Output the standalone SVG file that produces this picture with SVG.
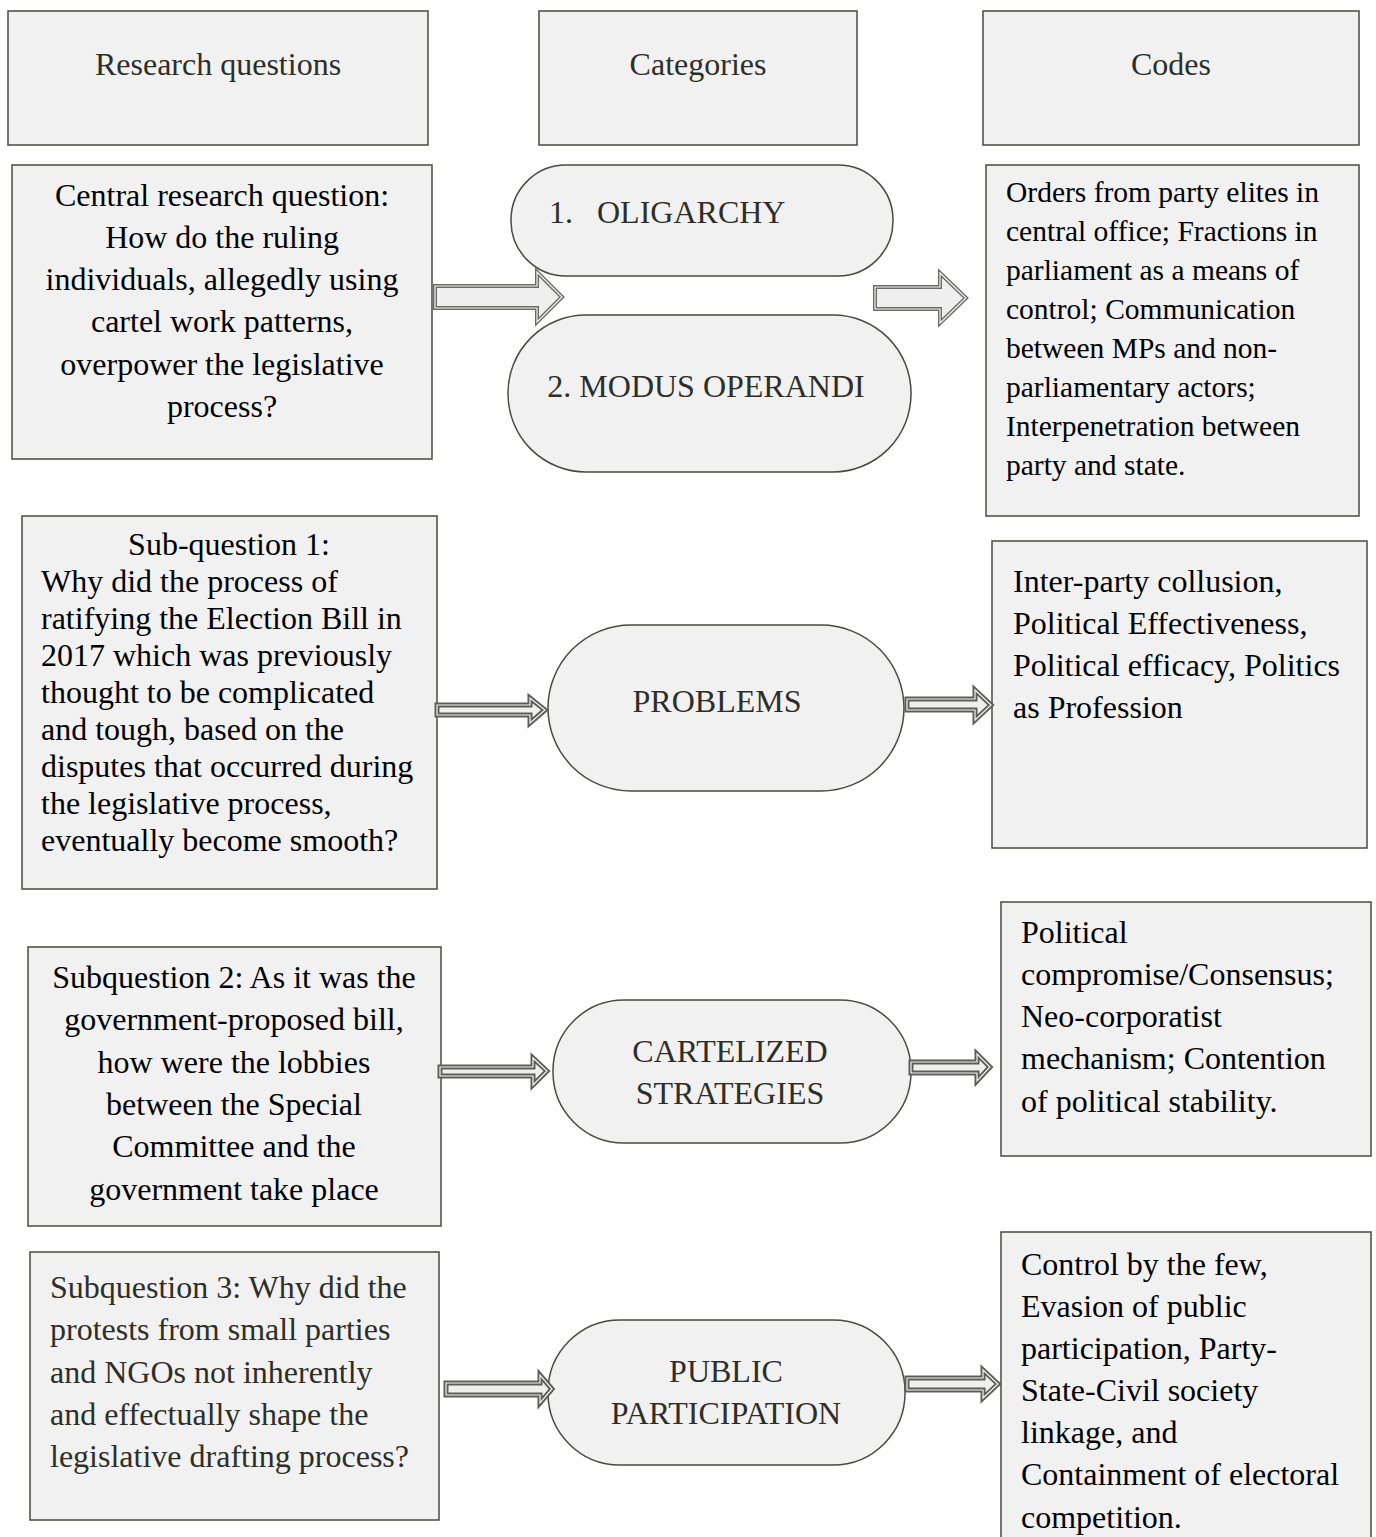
<svg xmlns="http://www.w3.org/2000/svg" width="1376" height="1537" viewBox="0 0 1376 1537">
<style>
.box{fill:#f1f1f1;stroke:#4a4a42;stroke-width:1.5}
.t{font-family:"Liberation Serif","Times New Roman",serif;font-size:32px;fill:#000}
.g{fill:#2e2e28}
.c{text-anchor:middle}
.s26{font-size:29.5px}
.ao{fill:#efefef;stroke:#6a6a66;stroke-width:4;stroke-linejoin:miter}
.so{fill:#efefef;stroke:#5c5c5a;stroke-width:5;stroke-linejoin:miter}
.ai{fill:none;stroke:#f4f4f4;stroke-width:1.2;stroke-linejoin:miter}
</style>
<rect width="1376" height="1537" fill="#fff"/>
<g id="hdr-rq"><rect class="box" x="8" y="11" width="420" height="134"/><text class="t g c" x="218" y="75">Research questions</text></g>
<g id="hdr-cat"><rect class="box" x="539" y="11" width="318" height="134"/><text class="t g c" x="698" y="75">Categories</text></g>
<g id="hdr-codes"><rect class="box" x="983" y="11" width="376" height="134"/><text class="t g c" x="1171" y="75">Codes</text></g>

<g id="central"><rect class="box" x="12" y="165" width="420" height="294"/>
<text class="t c" x="222"><tspan x="222" y="206">Central research question:</tspan><tspan x="222" y="248">How do the ruling</tspan><tspan x="222" y="290">individuals, allegedly using</tspan><tspan x="222" y="332">cartel work patterns,</tspan><tspan x="222" y="375">overpower the legislative</tspan><tspan x="222" y="417">process?</tspan></text></g>

<g id="oligarchy"><rect class="box" x="511" y="165" width="382" height="111" rx="55" ry="55"/><text class="t g" x="549" y="223" xml:space="preserve">1.   OLIGARCHY</text></g>
<g id="modus"><rect class="box" x="508" y="315" width="403" height="157" rx="78" ry="78"/><text class="t g c" x="706" y="397">2. MODUS OPERANDI</text></g>

<g id="codes1"><rect class="box" x="986" y="165" width="373" height="351"/>
<text class="t s26"><tspan x="1006" y="202">Orders from party elites in</tspan><tspan x="1006" y="241">central office; Fractions in</tspan><tspan x="1006" y="280">parliament as a means of</tspan><tspan x="1006" y="319">control; Communication</tspan><tspan x="1006" y="358">between MPs and non-</tspan><tspan x="1006" y="397">parliamentary actors;</tspan><tspan x="1006" y="436">Interpenetration between</tspan><tspan x="1006" y="475">party and state.</tspan></text></g>

<g id="sub1"><rect class="box" x="22" y="516" width="415" height="373"/>
<text class="t"><tspan class="c" x="229" y="555">Sub-question 1:</tspan><tspan x="41" y="592">Why did the process of</tspan><tspan x="41" y="629">ratifying the Election Bill in</tspan><tspan x="41" y="666">2017 which was previously</tspan><tspan x="41" y="703">thought to be complicated</tspan><tspan x="41" y="740">and tough, based on the</tspan><tspan x="41" y="777">disputes that occurred during</tspan><tspan x="41" y="814">the legislative process,</tspan><tspan x="41" y="851">eventually become smooth?</tspan></text></g>

<g id="problems"><rect class="box" x="548" y="625" width="356" height="166" rx="83" ry="83"/><text class="t g c" x="717" y="712">PROBLEMS</text></g>

<g id="codes2"><rect class="box" x="992" y="541" width="375" height="307"/>
<text class="t"><tspan x="1013" y="592">Inter-party collusion,</tspan><tspan x="1013" y="634">Political Effectiveness,</tspan><tspan x="1013" y="676">Political efficacy, Politics</tspan><tspan x="1013" y="718">as Profession</tspan></text></g>

<g id="sub2"><rect class="box" x="28" y="947" width="413" height="279"/>
<text class="t c"><tspan x="234" y="988">Subquestion 2: As it was the</tspan><tspan x="234" y="1030">government-proposed bill,</tspan><tspan x="234" y="1073">how were the lobbies</tspan><tspan x="234" y="1115">between the Special</tspan><tspan x="234" y="1157">Committee and the</tspan><tspan x="234" y="1200">government take place</tspan></text></g>

<g id="cartelized"><rect class="box" x="553" y="1000" width="358" height="143" rx="71" ry="71"/><text class="t g c"><tspan x="730" y="1062">CARTELIZED</tspan><tspan x="730" y="1104">STRATEGIES</tspan></text></g>

<g id="codes3"><rect class="box" x="1001" y="902" width="370" height="254"/>
<text class="t"><tspan x="1021" y="943">Political</tspan><tspan x="1021" y="985">compromise/Consensus;</tspan><tspan x="1021" y="1027">Neo-corporatist</tspan><tspan x="1021" y="1069">mechanism; Contention</tspan><tspan x="1021" y="1112">of political stability.</tspan></text></g>

<g id="sub3"><rect class="box" x="30" y="1252" width="409" height="268"/>
<text class="t g"><tspan x="50" y="1298">Subquestion 3: Why did the</tspan><tspan x="50" y="1340">protests from small parties</tspan><tspan x="50" y="1383">and NGOs not inherently</tspan><tspan x="50" y="1425">and effectually shape the</tspan><tspan x="50" y="1467">legislative drafting process?</tspan></text></g>

<g id="public"><rect class="box" x="548" y="1320" width="357" height="145" rx="72" ry="72"/><text class="t g c"><tspan x="726" y="1382">PUBLIC</tspan><tspan x="726" y="1424">PARTICIPATION</tspan></text></g>

<g id="codes4"><rect class="box" x="1001" y="1232" width="370" height="320"/>
<text class="t"><tspan x="1021" y="1275">Control by the few,</tspan><tspan x="1021" y="1317">Evasion of public</tspan><tspan x="1021" y="1359">participation, Party-</tspan><tspan x="1021" y="1401">State-Civil society</tspan><tspan x="1021" y="1443">linkage, and</tspan><tspan x="1021" y="1485">Containment of electoral</tspan><tspan x="1021" y="1528">competition.</tspan></text></g>

<g id="connectors">
<polygon class="ao" points="435,286 537,286 537,272 562,297 537,322 537,308 435,308"/>
<polygon class="ai" points="435,286 537,286 537,272 562,297 537,322 537,308 435,308"/>
<polygon class="ao" points="875,287 940,287 940,273 966,298 940,323 940,309 875,309"/>
<polygon class="ai" points="875,287 940,287 940,273 966,298 940,323 940,309 875,309"/>
<polygon class="so" points="437,705 530,705 530,698 545,710 530,723 530,715 437,715"/>
<polygon class="ai" points="437,705 530,705 530,698 545,710 530,723 530,715 437,715"/>
<polygon class="so" points="907,699 975,699 975,690 991,705 975,720 975,710 907,710"/>
<polygon class="ai" points="907,699 975,699 975,690 991,705 975,720 975,710 907,710"/>
<polygon class="so" points="440,1067 533,1067 533,1058 547,1071 533,1085 533,1076 440,1076"/>
<polygon class="ai" points="440,1067 533,1067 533,1058 547,1071 533,1085 533,1076 440,1076"/>
<polygon class="so" points="911,1062 977,1062 977,1054 990,1067 977,1081 977,1073 911,1073"/>
<polygon class="ai" points="911,1062 977,1062 977,1054 990,1067 977,1081 977,1073 911,1073"/>
<polygon class="so" points="446,1383 540,1383 540,1375 552,1389 540,1403 540,1395 446,1395"/>
<polygon class="ai" points="446,1383 540,1383 540,1375 552,1389 540,1403 540,1395 446,1395"/>
<polygon class="so" points="907,1378 983,1378 983,1370 998,1384 983,1398 983,1390 907,1390"/>
<polygon class="ai" points="907,1378 983,1378 983,1370 998,1384 983,1398 983,1390 907,1390"/>
</g>
</svg>
